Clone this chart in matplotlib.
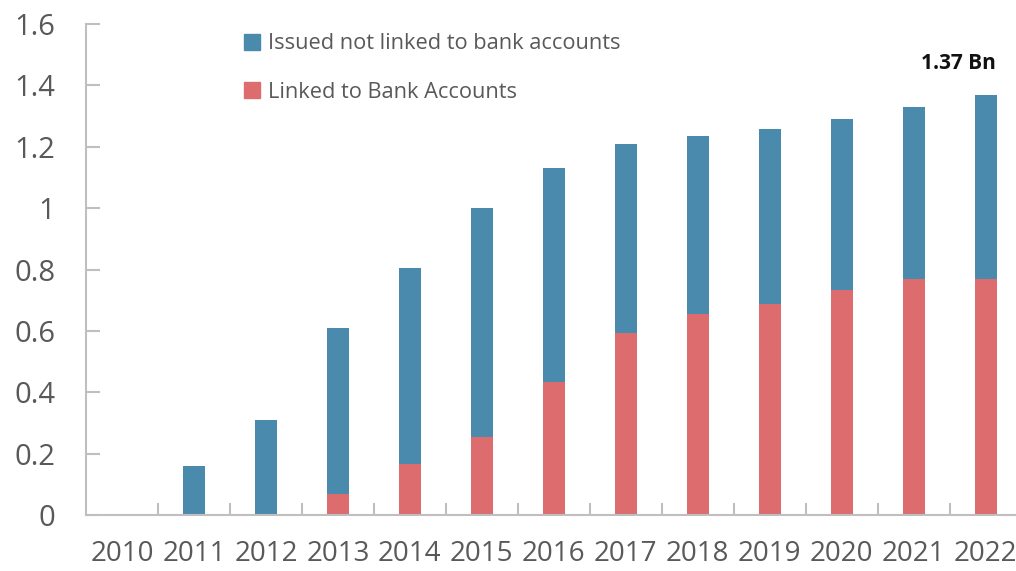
import numpy as np
import matplotlib.pyplot as plt
from matplotlib.patches import Patch

plt.rcParams['font.family'] = ['Open Sans', 'DejaVu Sans']

# aadhaar issued (billions), split by bank linkage
years = ['2010', '2011', '2012', '2013', '2014', '2015', '2016',
         '2017', '2018', '2019', '2020', '2021', '2022']
total = [0, 0.16, 0.31, 0.61, 0.805, 1.0, 1.132, 1.208, 1.236, 1.259, 1.291, 1.33, 1.367]
linked = [0, 0, 0, 0.068, 0.166, 0.254, 0.433, 0.592, 0.654, 0.688, 0.732, 0.768, 0.769]
not_linked = [t - l for t, l in zip(total, linked)]

blue = '#4a8aad'
red = '#dc6c6e'
grey = '#bfbfbf'
text_grey = '#595959'

fig = plt.figure(figsize=(10.16, 5.71), dpi=100)
ax = fig.add_axes([0.0846, 0.098, 0.921, 0.860])

x = np.arange(len(years))
w = 0.31
ax.bar(x, linked, width=w, color=red)
ax.bar(x, not_linked, width=w, bottom=linked, color=blue)

ax.text(x[-1] - 0.38, 1.47, '1.37 Bn', ha='center', va='center',
        fontsize=15, fontweight='bold', color='#111111')

ax.set_xlim(-0.5, len(years) - 0.5)
ax.set_ylim(0, 1.6)
ax.set_yticks([0, 0.2, 0.4, 0.6, 0.8, 1, 1.2, 1.4, 1.6])
ax.set_yticklabels(['0', '0.2', '0.4', '0.6', '0.8', '1', '1.2', '1.4', '1.6'])
ax.set_xticks(x)
ax.set_xticklabels(years)
ax.set_xticks(x[:-1] + 0.5, minor=True)

for s in ['top', 'right']:
    ax.spines[s].set_visible(False)
for s in ['left', 'bottom']:
    ax.spines[s].set_color(grey)
    ax.spines[s].set_linewidth(1.5)

ax.tick_params(axis='y', direction='in', length=10, width=1.5, color=grey,
               labelsize=21, labelcolor=text_grey, pad=22)
ax.tick_params(axis='x', which='major', length=0, labelsize=20,
               labelcolor=text_grey, pad=18)
ax.tick_params(axis='x', which='minor', direction='in', length=9, width=1.5,
               color=grey)

handles = [Patch(color=blue, label='Issued not linked to bank accounts'),
           Patch(color=red, label='Linked to Bank Accounts')]
ax.legend(handles=handles, loc='upper left', bbox_to_anchor=(0.148, 1.021),
          frameon=False, fontsize=15.7, labelcolor=text_grey,
          handlelength=0.75, handleheight=0.75, handletextpad=0.35,
          labelspacing=1.25)

fig.savefig('out.png', dpi=100)
